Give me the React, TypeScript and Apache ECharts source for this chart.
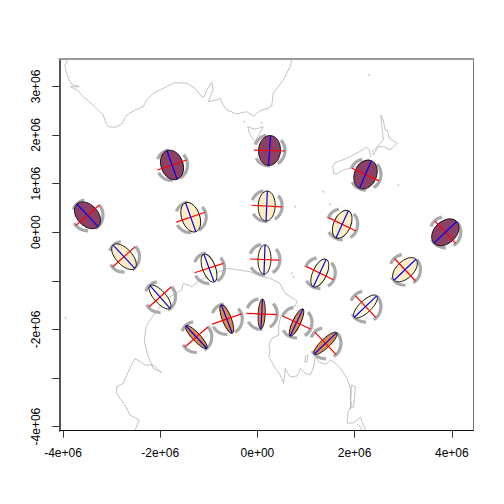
import React, { useEffect, useRef } from "react";
import * as echarts from "echarts";

// Map extent and axes (projected metres)
const xRange = [-4076000, 4442000];
const yRange = [-4084000, 3564000];
const xTickValues = [-4e6, -2e6, 0, 2e6, 4e6];
const yTickValues = [-4e6, -3e6, -2e6, -1e6, 0, 1e6, 2e6, 3e6];
const yLabelValues = [-4e6, -2e6, 0, 1e6, 2e6, 3e6];

// Coastlines, [x, y] in km
const australia = [[-3960,3564],[-3960,3558],[-3912,3509],[-3960,3441],[-3925,3270],[-3871,3132],[-3822,3044],[-3665,2994],[-3842,2994],[-3692,2912],[-3583,2789],[-3342,2583],[-3171,2412],[-3116,2241],[-3068,2171],[-2931,2159],[-2793,2227],[-2690,2412],[-2519,2515],[-2348,2583],[-2278,2721],[-2142,2859],[-1937,2961],[-1696,3077],[-1455,3064],[-1284,2961],[-1146,2789],[-1099,2776],[-1043,2926],[-941,3085],[-908,2926],[-975,2789],[-1010,2686],[-838,2721],[-770,2756],[-702,2618],[-632,2515],[-426,2433],[-220,2480],[-84,2391],[54,2500],[224,2550],[294,2597],[327,2859],[533,3132],[671,3406],[718,3564]];
const tasmania = [[-200,2171],[-152,2000],[-49,1862],[121,2171],[-49,2118],[-200,2171]];
const nzSouth = [[2332,1554],[2303,1692],[2249,1747],[2044,1624],[1838,1521],[1597,1430],[1550,1348],[1576,1198],[1644,1212],[1768,1280],[1974,1336],[2112,1362]];
const nzNorth = [[2373,1657],[2591,1897],[2579,2035],[2558,2206],[2538,2412],[2591,2309],[2626,2103],[2673,2103],[2715,1932],[2879,1830],[2729,1692],[2591,1760],[2488,1760],[2385,1589],[2373,1657]];
const antarctica = [[-2519,-4071],[-2430,-3865],[-2622,-3762],[-2725,-3556],[-2828,-3418],[-2896,-3315],[-2896,-3180],[-2760,-3110],[-2657,-2871],[-2519,-2595],[-2313,-2733],[-2142,-2733],[-1969,-2891],[-2142,-2801],[-2245,-2562],[-2328,-2254],[-2293,-1945],[-2210,-1807],[-2107,-1669],[-1902,-1395],[-1558,-1190],[-1525,-1052],[-1352,-1122],[-1181,-984],[-702,-778],[-632,-743],[-152,-813],[54,-901],[259,-949],[465,-1052],[568,-1257],[815,-1416],[780,-1519],[609,-1587],[486,-1725],[438,-1910],[438,-2116],[300,-2184],[233,-2321],[259,-2424],[233,-2562],[300,-2671],[368,-2801],[471,-2939],[541,-3110],[574,-2801],[609,-2877],[677,-2974],[815,-2959],[883,-2801],[980,-2898],[1089,-2939],[1159,-2768],[1192,-2527],[1247,-2651],[1329,-2698],[1412,-2712],[1500,-2630],[1597,-2692],[1706,-2801],[1844,-3007],[1885,-3124],[1926,-3289],[1912,-3453],[1947,-3556],[1865,-3694],[1844,-3933],[1982,-3920],[2118,-3809],[2153,-3900],[2221,-4071]];
const rossIsland = [[986,-2562],[1041,-2527],[1021,-2665],[973,-2665],[986,-2562]];
const peninsulaChain = [[1932,-3145],[2015,-3180],[1982,-3591],[1912,-3624],[1932,-3145]];
const peninsulaTail = [[2050,-3947],[2153,-4030],[2112,-4071]];
const islands = [[-270,2274],[88,2254],[2303,3235],[2900,971],[1356,833],[774,525],[1494,574],[-3945,-1766],[706,-846],[739,-916]];

// Ellipse glyphs: centres in km, lengths in km, directions in degrees
const glyphX = [-3496,-1757,249,2224,3866,-2745,-1372,191,1745,-2004,-996,146,1284,3037,2224,-1257,-630,88,805,1401];
const glyphY = [348,1383,1681,1187,-2,-504,309,539,163,-1333,-737,-562,-840,-772,-1529,-2156,-1786,-1683,-1858,-2286];
const blueHalf = [319,312,309,309,323,327,317,309,305,311,305,303,311,311,319,317,313,309,307,319];
const minorHalf = [216,226,226,226,226,165,185,175,175,123,134,134,144,175,123,82,93,72,82,93];
const redHalf = [323,319,319,309,313,309,315,313,313,307,313,303,313,311,307,313,321,315,317,313];
const blueDeg = [-47,-70.7,86.2,67,43.6,-47,-70.4,87.5,65.5,-48.5,-69.6,88,65,44,43.6,-47,-68.8,87,64.8,43.6];
const redDeg = [41.3,18.8,-1.8,-24.9,-47,41.9,19,-3,-26,42.3,18,-2,-26,-46.7,-46.6,41,19.3,-2.4,-25,-46.3];
const fills = ["#8e3f64","#8e3f64","#8e3f64","#8e3f64","#8e3f64","#feedc2","#feedc2","#feedc2","#feedc2","#fff8d6","#fff8d6","#fff8d6","#fff8d6","#fdeec6","#fff8d6","#e58a45","#e58a45","#e58a45","#e58a45","#e58a45"];
// Grey ring around every glyph: radius in km, arcs [from, to] in degrees
const ringRadius = 319;
const ringArcs = [[102, 158], [-58, 42], [-150, -88]];

const rad = (d: number) => (d * Math.PI) / 180;
const km = (pts: number[][]) => pts.map(([x, y]) => [x * 1000, y * 1000]);
const sci = (v: number) => (v === 0 ? "0e+00" : `${v / 1e6}e+06`);

const coastSeries = (pts: number[][]) => ({
  type: "line",
  data: km(pts),
  showSymbol: false,
  silent: true,
  z: 1,
  lineStyle: { color: "#a8a8a8", width: 0.7 },
});

const textStyle = { fontFamily: "Liberation Sans", fontSize: 12, color: "#000" };

export default function App() {
  const ref = useRef<HTMLDivElement>(null);
  useEffect(() => {
    const chart = echarts.init(ref.current!, undefined, { renderer: "svg" });
    chart.setOption({
      animation: false,
      backgroundColor: "#fff",
      grid: { left: 59.3, right: 30.7, top: 59, bottom: 73.3, containLabel: false },
      xAxis: [
        {
          type: "value",
          position: "bottom",
          min: xRange[0],
          max: xRange[1],
          splitLine: { show: false },
          axisLine: { show: true, onZero: false, lineStyle: { color: "#111", width: 1 } },
          axisTick: { show: true, length: 7, customValues: xTickValues, lineStyle: { color: "#333", width: 1 } },
          axisLabel: { ...textStyle, margin: 16, customValues: xTickValues, formatter: (v: number) => sci(v) },
        },
        {
          type: "value",
          position: "top",
          min: xRange[0],
          max: xRange[1],
          splitLine: { show: false },
          axisLine: { show: true, onZero: false, lineStyle: { color: "#999", width: 2 } },
          axisTick: { show: false },
          axisLabel: { show: false },
        },
      ],
      yAxis: [
        {
          type: "value",
          position: "left",
          min: yRange[0],
          max: yRange[1],
          splitLine: { show: false },
          axisLine: { show: true, onZero: false, lineStyle: { color: "#555", width: 2 } },
          axisTick: { show: true, length: 7, customValues: yTickValues, lineStyle: { color: "#333", width: 1 } },
          axisLabel: { ...textStyle, margin: 17, rotate: 90, customValues: yLabelValues, formatter: (v: number) => sci(v) },
        },
        {
          type: "value",
          position: "right",
          min: yRange[0],
          max: yRange[1],
          splitLine: { show: false },
          axisLine: { show: true, onZero: false, lineStyle: { color: "#777", width: 1 } },
          axisTick: { show: false },
          axisLabel: { show: false },
        },
      ],
      series: [
        coastSeries(australia),
        coastSeries(tasmania),
        coastSeries(nzSouth),
        coastSeries(nzNorth),
        coastSeries(antarctica),
        coastSeries(rossIsland),
        coastSeries(peninsulaChain),
        coastSeries(peninsulaTail),
        {
          type: "scatter",
          data: km(islands),
          symbolSize: 2,
          silent: true,
          z: 1,
          itemStyle: { color: "#c4c4c4" },
        },
        {
          type: "custom",
          z: 2,
          silent: true,
          clip: false,
          data: glyphX.map((x, i) => [x * 1000, glyphY[i] * 1000]),
          encode: { x: 0, y: 1 },
          renderItem: (params: any, api: any) => {
            const i = params.dataIndex;
            const [cx, cy] = api.coord([api.value(0), api.value(1)]);
            const scale = api.size([1000, 1000])[0];
            const arcs = ringArcs.map(([a, b]) => ({
              type: "arc",
              shape: { cx: 0, cy: 0, r: ringRadius * scale, startAngle: -rad(b), endAngle: -rad(a), clockwise: true },
              style: { fill: "none", stroke: "#aaaaaa", lineWidth: 3.2 },
            }));
            return {
              type: "group",
              x: cx,
              y: cy,
              children: [
                ...arcs,
                {
                  type: "ellipse",
                  rotation: rad(blueDeg[i]),
                  shape: { cx: 0, cy: 0, rx: blueHalf[i] * scale, ry: minorHalf[i] * scale },
                  style: { fill: fills[i], stroke: "#111", lineWidth: 0.9 },
                },
                {
                  type: "line",
                  rotation: rad(redDeg[i]),
                  shape: { x1: -redHalf[i] * scale, y1: 0, x2: redHalf[i] * scale, y2: 0 },
                  style: { stroke: "#ff0000", lineWidth: 1.2 },
                },
                {
                  type: "line",
                  rotation: rad(blueDeg[i]),
                  shape: { x1: -blueHalf[i] * scale, y1: 0, x2: blueHalf[i] * scale, y2: 0 },
                  style: { stroke: "#0000ff", lineWidth: 1.2 },
                },
              ],
            };
          },
        },
      ],
    });
    return () => chart.dispose();
  }, []);
  return <div ref={ref} style={{ position: "fixed", left: 0, top: 0, width: 504, height: 504 }} />;
}
